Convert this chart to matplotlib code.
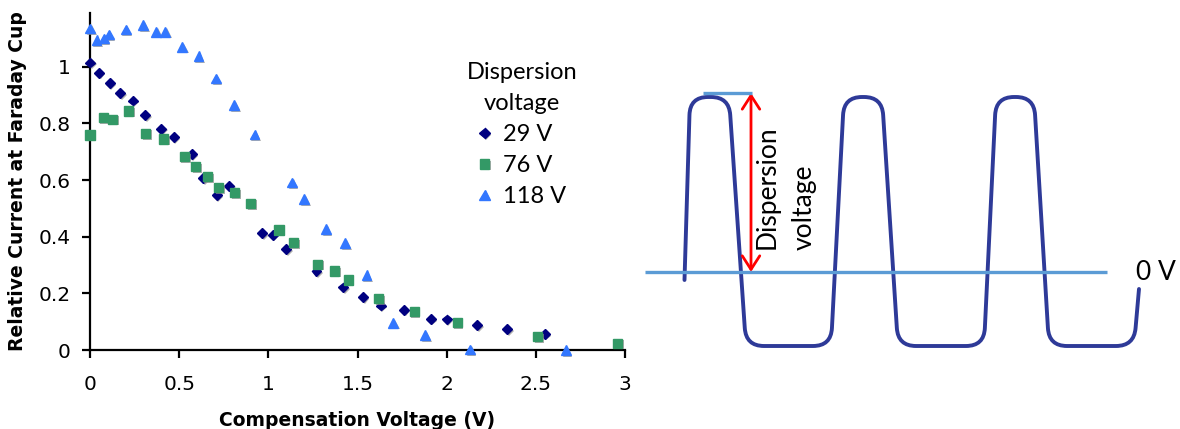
import matplotlib
matplotlib.use("Agg")
import matplotlib.pyplot as plt
from matplotlib.path import Path
from matplotlib.patches import PathPatch, FancyArrowPatch
import matplotlib.patheffects as pe

# ---------------- data ----------------
x_29 = [0.0, 0.05, 0.11, 0.17, 0.24, 0.31, 0.40, 0.47, 0.57, 0.635, 0.71, 0.78,
        0.965, 1.025, 1.10, 1.27, 1.42, 1.53, 1.63, 1.76, 1.91, 2.0, 2.17, 2.34, 2.55]
y_29 = [1.015, 0.979, 0.943, 0.907, 0.881, 0.830, 0.781, 0.752, 0.692, 0.607, 0.547, 0.580,
        0.413, 0.407, 0.356, 0.278, 0.221, 0.187, 0.157, 0.142, 0.110, 0.108, 0.088, 0.074, 0.057]

x_76 = [0.0, 0.075, 0.127, 0.217, 0.312, 0.413, 0.529, 0.592, 0.658, 0.721, 0.811, 0.902,
        1.06, 1.14, 1.275, 1.37, 1.448, 1.62, 1.818, 2.059, 2.51, 2.96]
y_76 = [0.759, 0.821, 0.815, 0.844, 0.765, 0.745, 0.682, 0.647, 0.612, 0.573, 0.556, 0.518,
        0.424, 0.379, 0.303, 0.279, 0.247, 0.181, 0.135, 0.096, 0.047, 0.024]

x_118 = [0.0, 0.037, 0.078, 0.105, 0.2, 0.299, 0.372, 0.422, 0.516, 0.609, 0.705, 0.809,
         0.923, 1.132, 1.2, 1.323, 1.43, 1.551, 1.70, 1.88, 2.13, 2.668]
y_118 = [1.135, 1.094, 1.10, 1.114, 1.132, 1.147, 1.124, 1.124, 1.071, 1.038, 0.959, 0.864,
         0.761, 0.591, 0.532, 0.427, 0.377, 0.264, 0.096, 0.053, 0.002, 0.0]

series_labels = ["29 V", "76 V", "118 V"]
x_ticks = [0, 0.5, 1, 1.5, 2, 2.5, 3]
x_tick_labels = ["0", "0.5", "1", "1.5", "2", "2.5", "3"]
y_ticks = [0, 0.2, 0.4, 0.6, 0.8, 1.0]
y_tick_labels = ["0", "0.2", "0.4", "0.6", "0.8", "1"]

# schematic waveform corner vertices (right panel, in pixel-like units)
wave_x = [684.5, 690, 729, 746, 831, 844, 882, 898, 984, 996, 1034, 1049, 1134, 1139]
wave_y = [280, 97, 97, 346, 346, 97, 97, 346, 346, 97, 97, 346, 346, 289]

# ---------------- figure ----------------
W, H = 1180, 429
fig = plt.figure(figsize=(W / 100, H / 100), dpi=100)

ax = fig.add_axes([90 / W, (H - 350) / H, 535 / W, 337 / H])
shadow = [pe.SimplePatchShadow(offset=(1.2, -1.2), shadow_rgbFace="0.55", alpha=0.7), pe.Normal()]

ax.plot(x_29, y_29, ls="none", marker="D", ms=5, color="#000080", mec="#000080",
        label=series_labels[0], clip_on=False, path_effects=shadow, zorder=3)
ax.plot(x_76, y_76, ls="none", marker="s", ms=6.6, color="#339966", mec="#339966",
        label=series_labels[1], clip_on=False, path_effects=shadow, zorder=3)
ax.plot(x_118, y_118, ls="none", marker="^", ms=7, color="#3377FF", mec="#3377FF",
        label=series_labels[2], clip_on=False, path_effects=shadow, zorder=3)

ax.set_xlim(0, 3)
ax.set_ylim(0, 1.19)
ax.set_xticks(x_ticks)
ax.set_xticklabels(x_tick_labels)
ax.set_yticks(y_ticks)
ax.set_yticklabels(y_tick_labels)
for s in ["top", "right"]:
    ax.spines[s].set_visible(False)
for s in ["left", "bottom"]:
    ax.spines[s].set_linewidth(1.6)
ax.tick_params(axis="both", direction="out", length=6, width=1.6, labelsize=14.5,
               colors="black")
ax.tick_params(axis="y", pad=8)
ax.tick_params(axis="x", pad=12)
ax.set_xlabel("Compensation Voltage (V)", fontsize=13.5, fontweight="bold", labelpad=12)
ax.set_ylabel("Relative Current at Faraday Cup", fontsize=13.5, fontweight="bold", labelpad=8)

leg = ax.legend(title="Dispersion\nvoltage", frameon=False, loc="upper center",
                bbox_to_anchor=(522 / W, (H - 62) / H), bbox_transform=fig.transFigure,
                prop={"family": "Lato", "size": 17}, handlelength=0.6, handletextpad=0.5,
                labelspacing=0.42, borderpad=0, borderaxespad=0, markerscale=1.05)
leg.get_title().set_fontfamily("Lato")
leg.get_title().set_fontsize(17)
leg.get_title().set_multialignment("center")
leg.get_title().set_linespacing(1.6)

# ---------------- right schematic ----------------
ax2 = fig.add_axes([640 / W, 0, 540 / W, 1])
ax2.set_xlim(640, 1180)
ax2.set_ylim(H, 0)
ax2.axis("off")


def rounded_path(xs, ys, r):
    verts = [(xs[0], ys[0])]
    codes = [Path.MOVETO]
    for i in range(1, len(xs) - 1):
        px, py = xs[i - 1], ys[i - 1]
        cx, cy = xs[i], ys[i]
        nx, ny = xs[i + 1], ys[i + 1]
        d1 = ((cx - px) ** 2 + (cy - py) ** 2) ** 0.5
        d2 = ((nx - cx) ** 2 + (ny - cy) ** 2) ** 0.5
        r1 = min(r, d1 / 2)
        r2 = min(r, d2 / 2)
        a = (cx - (cx - px) * r1 / d1, cy - (cy - py) * r1 / d1)
        b = (cx + (nx - cx) * r2 / d2, cy + (ny - cy) * r2 / d2)
        verts += [a, (cx, cy), b]
        codes += [Path.LINETO, Path.CURVE3, Path.CURVE3]
    verts.append((xs[-1], ys[-1]))
    codes.append(Path.LINETO)
    return Path(verts, codes)


ax2.add_patch(PathPatch(rounded_path(wave_x, wave_y, 18), fill=False,
                        edgecolor="#2E3A98", lw=2.8, capstyle="round", joinstyle="round"))

ax2.plot([645, 1107], [272, 272], color="#5B9BD5", lw=2.4, solid_capstyle="butt")
ax2.plot([703, 752], [93, 93], color="#5B9BD5", lw=2.4, solid_capstyle="butt")
ax2.add_patch(FancyArrowPatch((751, 93), (751, 272), arrowstyle="<->,head_length=0.7,head_width=0.45",
                              mutation_scale=14, color="#FF0000", lw=2, shrinkA=0, shrinkB=0))
ax2.text(1136, 272, "0 V", fontsize=19, family="Lato", va="center", ha="left")
ax2.text(767, 187, "Dispersion", fontsize=19, family="Lato", rotation=90,
         va="center", ha="center")
ax2.text(804, 207, "voltage", fontsize=19, family="Lato", rotation=90,
         va="center", ha="center")

fig.savefig("out.png", dpi=100)
